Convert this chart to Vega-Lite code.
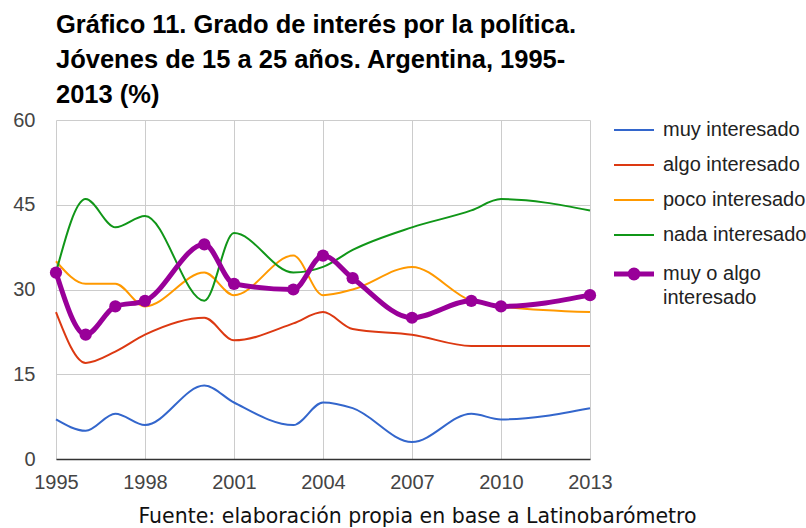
{
  "$schema": "https://vega.github.io/schema/vega-lite/v6.json",
  "autosize": {"type": "none"},
  "width": 534,
  "height": 339,
  "padding": {"left": 56, "top": 120, "right": 216, "bottom": 69},
  "background": "white",
  "config": {
    "font": "Liberation Sans",
    "view": {"stroke": null}
  },
  "title": {
    "text": ["Gráfico 11. Grado de interés por la política.", "Jóvenes de 15 a 25 años. Argentina, 1995-", "2013 (%)"],
    "anchor": "start",
    "frame": "group",
    "font": "Liberation Sans",
    "fontSize": 25.5,
    "fontWeight": "bold",
    "color": "#000000",
    "lineHeight": 35,
    "offset": 2
  },
  "data": {
    "values": [
      {"year": 1995, "serie": "muy interesado", "value": 7},
      {"year": 1996, "serie": "muy interesado", "value": 5},
      {"year": 1997, "serie": "muy interesado", "value": 8},
      {"year": 1998, "serie": "muy interesado", "value": 6},
      {"year": 2000, "serie": "muy interesado", "value": 13},
      {"year": 2001, "serie": "muy interesado", "value": 10},
      {"year": 2003, "serie": "muy interesado", "value": 6},
      {"year": 2004, "serie": "muy interesado", "value": 10},
      {"year": 2005, "serie": "muy interesado", "value": 9},
      {"year": 2007, "serie": "muy interesado", "value": 3},
      {"year": 2009, "serie": "muy interesado", "value": 8},
      {"year": 2010, "serie": "muy interesado", "value": 7},
      {"year": 2013, "serie": "muy interesado", "value": 9},
      {"year": 1995, "serie": "algo interesado", "value": 26},
      {"year": 1996, "serie": "algo interesado", "value": 17},
      {"year": 1997, "serie": "algo interesado", "value": 19},
      {"year": 1998, "serie": "algo interesado", "value": 22},
      {"year": 2000, "serie": "algo interesado", "value": 25},
      {"year": 2001, "serie": "algo interesado", "value": 21},
      {"year": 2003, "serie": "algo interesado", "value": 24},
      {"year": 2004, "serie": "algo interesado", "value": 26},
      {"year": 2005, "serie": "algo interesado", "value": 23},
      {"year": 2007, "serie": "algo interesado", "value": 22},
      {"year": 2009, "serie": "algo interesado", "value": 20},
      {"year": 2010, "serie": "algo interesado", "value": 20},
      {"year": 2013, "serie": "algo interesado", "value": 20},
      {"year": 1995, "serie": "poco interesado", "value": 35},
      {"year": 1996, "serie": "poco interesado", "value": 31},
      {"year": 1997, "serie": "poco interesado", "value": 31},
      {"year": 1998, "serie": "poco interesado", "value": 27},
      {"year": 2000, "serie": "poco interesado", "value": 33},
      {"year": 2001, "serie": "poco interesado", "value": 29},
      {"year": 2003, "serie": "poco interesado", "value": 36},
      {"year": 2004, "serie": "poco interesado", "value": 29},
      {"year": 2005, "serie": "poco interesado", "value": 30},
      {"year": 2007, "serie": "poco interesado", "value": 34},
      {"year": 2009, "serie": "poco interesado", "value": 28},
      {"year": 2010, "serie": "poco interesado", "value": 27},
      {"year": 2013, "serie": "poco interesado", "value": 26},
      {"year": 1995, "serie": "nada interesado", "value": 33},
      {"year": 1996, "serie": "nada interesado", "value": 46},
      {"year": 1997, "serie": "nada interesado", "value": 41},
      {"year": 1998, "serie": "nada interesado", "value": 43},
      {"year": 2000, "serie": "nada interesado", "value": 28},
      {"year": 2001, "serie": "nada interesado", "value": 40},
      {"year": 2003, "serie": "nada interesado", "value": 33},
      {"year": 2004, "serie": "nada interesado", "value": 34},
      {"year": 2005, "serie": "nada interesado", "value": 37},
      {"year": 2007, "serie": "nada interesado", "value": 41},
      {"year": 2009, "serie": "nada interesado", "value": 44},
      {"year": 2010, "serie": "nada interesado", "value": 46},
      {"year": 2013, "serie": "nada interesado", "value": 44},
      {"year": 1995, "serie": "muy o algo interesado", "value": 33},
      {"year": 1996, "serie": "muy o algo interesado", "value": 22},
      {"year": 1997, "serie": "muy o algo interesado", "value": 27},
      {"year": 1998, "serie": "muy o algo interesado", "value": 28},
      {"year": 2000, "serie": "muy o algo interesado", "value": 38},
      {"year": 2001, "serie": "muy o algo interesado", "value": 31},
      {"year": 2003, "serie": "muy o algo interesado", "value": 30},
      {"year": 2004, "serie": "muy o algo interesado", "value": 36},
      {"year": 2005, "serie": "muy o algo interesado", "value": 32},
      {"year": 2007, "serie": "muy o algo interesado", "value": 25},
      {"year": 2009, "serie": "muy o algo interesado", "value": 28},
      {"year": 2010, "serie": "muy o algo interesado", "value": 27},
      {"year": 2013, "serie": "muy o algo interesado", "value": 29}
    ]
  },
  "encoding": {
    "x": {
      "field": "year",
      "type": "quantitative",
      "scale": {"domain": [1995, 2013], "nice": false, "zero": false},
      "axis": {
        "values": [1995, 1998, 2001, 2004, 2007, 2010, 2013],
        "format": "d",
        "title": "Fuente: elaboración propia en base a Latinobarómetro",
        "titleFont": "DejaVu Sans",
        "titleFontSize": 20.5,
        "titleFontWeight": "normal",
        "titleColor": "#111111",
        "titleX": 361,
        "titleY": 57,
        "titleAnchor": null,
        "titleAlign": "center",
        "titleBaseline": "middle",
        "labelFontSize": 20,
        "labelColor": "#444444",
        "labelPadding": 13,
        "ticks": false,
        "domainColor": "#333333",
        "domainWidth": 1.5,
        "gridColor": "#cccccc",
        "gridWidth": 1,
        "labelFlush": false
      }
    },
    "y": {
      "field": "value",
      "type": "quantitative",
      "scale": {"domain": [0, 60], "nice": false},
      "axis": {
        "values": [0, 15, 30, 45, 60],
        "title": null,
        "labelFontSize": 20,
        "labelColor": "#444444",
        "labelPadding": 21,
        "ticks": false,
        "domain": false,
        "gridColor": "#cccccc",
        "gridWidth": 1
      }
    },
    "color": {
      "field": "serie",
      "type": "nominal",
      "scale": {
        "domain": ["muy interesado", "algo interesado", "poco interesado", "nada interesado", "muy o algo interesado"],
        "range": ["#3366cc", "#dc3912", "#ff9900", "#109618", "#990099"]
      },
      "legend": {
        "orient": "none",
        "legendX": 568,
        "legendY": 0,
        "title": null,
        "symbolType": "stroke",
        "symbolSize": 1600,
        "symbolStrokeWidth": 2,
        "labelFontSize": 20,
        "labelColor": "#222222",
        "labelOffset": 19,
        "rowPadding": 15,
        "labelLimit": 200,
        "labelExpr": "datum.label == 'muy o algo interesado' ? ['muy o algo', 'interesado'] : datum.label",
        "encode": {
          "labels": {
            "update": {
              "lineHeight": {"value": 24}
            }
          },
          "symbols": {
            "update": {
              "strokeWidth": {"signal": "datum.value == 'muy o algo interesado' ? 5 : 2"},
              "shape": {"signal": "datum.value == 'muy o algo interesado' ? 'M-1,0H1M-0.2,0A0.2,0.2,0,1,1,0.2,0A0.2,0.2,0,1,1,-0.2,0Z' : 'stroke'"},
              "fill": {"signal": "datum.value == 'muy o algo interesado' ? '#990099' : 'transparent'"}
            }
          }
        }
      }
    }
  },
  "layer": [
    {
      "transform": [{"filter": "datum.serie != 'muy o algo interesado'"}],
      "mark": {"type": "line", "interpolate": "monotone", "strokeWidth": 2}
    },
    {
      "transform": [{"filter": "datum.serie == 'muy o algo interesado'"}],
      "mark": {"type": "line", "interpolate": "monotone", "strokeWidth": 5}
    },
    {
      "transform": [{"filter": "datum.serie == 'muy o algo interesado'"}],
      "mark": {"type": "point", "filled": true, "size": 150, "opacity": 1}
    }
  ]
}
